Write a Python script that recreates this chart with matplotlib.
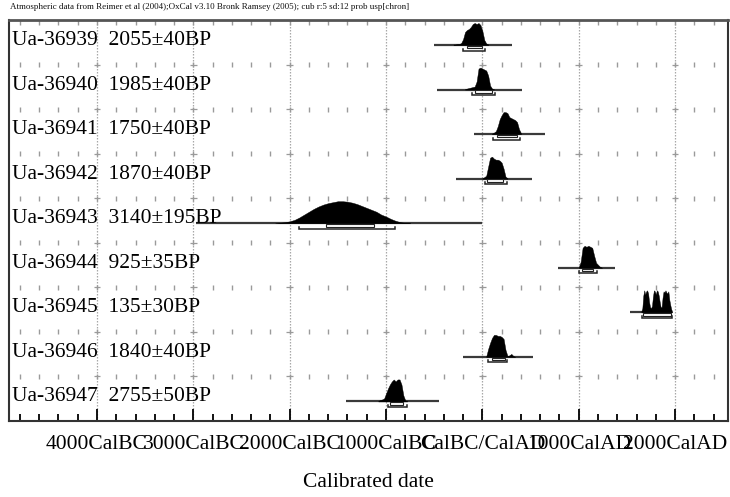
import numpy as np
import matplotlib
matplotlib.use("Agg")
import matplotlib.pyplot as plt
from matplotlib.patches import Rectangle

plt.rcParams['font.family'] = ['Liberation Serif', 'DejaVu Serif']

# ---------------- data ----------------
title = ("Atmospheric data from Reimer et al (2004);OxCal v3.10 Bronk Ramsey (2005); "
         "cub r:5 sd:12 prob usp[chron]")
labels = ["Ua-36939  2055\u00b140BP", "Ua-36940  1985\u00b140BP", "Ua-36941  1750\u00b140BP",
          "Ua-36942  1870\u00b140BP", "Ua-36943  3140\u00b1195BP", "Ua-36944  925\u00b135BP",
          "Ua-36945  135\u00b130BP", "Ua-36946  1840\u00b140BP", "Ua-36947  2755\u00b150BP"]

tick_years = [-4000, -3000, -2000, -1000, 0, 1000, 2000]
tick_labels = ["4000CalBC", "3000CalBC", "2000CalBC", "1000CalBC", "CalBC/CalAD",
               "1000CalAD", "2000CalAD"]

# calibrated probability (relative) on regular year grids
p1_years = list(range(-300, 61, 20))
p1_prob = [0.5, 0.5, 1, 1, 2, 6, 13, 15, 16, 18, 21, 22, 21, 22, 20, 14, 5, 1.5, 0.5]
p2_years = list(range(-180, 121, 20))
p2_prob = [0.5, 1, 1.5, 2, 2.5, 3, 8, 21, 22, 21, 20, 19, 14, 4, 1, 0.3]
p3_years = list(range(100, 401, 20))
p3_prob = [0.5, 1.5, 3, 8, 15, 19, 22, 22, 21, 17, 16, 15, 14, 12, 5, 1]
p4_years = list(range(0, 261, 20))
p4_prob = [0.5, 1.5, 3, 12, 21, 22, 20, 19, 19, 18, 16, 10, 2, 0.5]
p5_years = list(range(-2150, -749, 50))
p5_prob = [0, 0.5, 1, 2, 3.5, 6, 9, 12, 15, 17.5, 19.5, 21, 22, 23, 23, 22.5, 21.5, 20, 18, 16,
           14, 12, 9, 7, 4.5, 2.5, 1, 0.3, 0.1]
p6_years = list(range(1000, 1241, 20))
p6_prob = [0.5, 6, 20, 22, 21, 22, 21, 20, 12, 5, 3, 1, 0.2]
p7_years = list(range(1650, 1971, 10))
p7_prob = [1, 4, 16, 21, 17, 20, 21, 18, 10, 5, 4, 6, 15, 21, 20, 17, 21, 20, 16, 10, 5,
           5, 14, 20, 19, 21, 19, 18, 20, 12, 7, 3, 0.5]
p8_years = list(range(40, 341, 20))
p8_prob = [0.5, 8, 14, 19, 22, 22, 21, 21, 20, 18, 7, 1, 1.5, 3, 1, 0]
p9_years = list(range(-1080, -779, 20))
p9_prob = [0.5, 1.5, 2, 3, 8, 13, 17, 20, 22, 20, 22, 22, 17, 6, 1, 0.3]

years_list = [p1_years, p2_years, p3_years, p4_years, p5_years, p6_years, p7_years, p8_years, p9_years]
prob_list = [p1_prob, p2_prob, p3_prob, p4_prob, p5_prob, p6_prob, p7_prob, p8_prob, p9_prob]

line_start = [-500, -467, -86, -270, -2975, 786, 1531, -200, -1415]
line_end = [308, 415, 651, 520, -5, 1378, 1970, 527, -450]
r68_lo = [-162, -76, 149, 46, -1627, 1035, 1665, 100, -960]
r68_hi = [-6, 97, 357, 218, -1130, 1150, 1955, 235, -820]
r95_lo = [-197, -110, 114, 28, -1907, 1004, 1656, 60, -980]
r95_hi = [28, 132, 391, 253, -902, 1191, 1966, 255, -785]

# ---------------- figure ----------------
W, H = 730, 497
fig = plt.figure(figsize=(W / 100, H / 100), dpi=100)
left, right, top, bottom = 9, 728, 20, 421
ax = fig.add_axes([left / W, 1 - bottom / H, (right - left) / W, (bottom - top) / H])
xmin, xmax = -4913, 2549
ax.set_xlim(xmin, xmax)
nrows = len(labels)
ax.set_ylim(nrows, 0)
row_px = (bottom - top) / nrows
px = 1.0 / row_px  # one pixel in row units

# grid lines
for yr in tick_years:
    ax.axvline(yr, color='#a8a8a8', lw=0.9, ls=(0, (1.2, 1.2)), zorder=0)

minor_years = np.arange(-4800, 2550, 200)
# top ticks (light gray, inward)
ax.vlines(minor_years, 0, 5 * px, color='#9a9a9a', lw=1.0, zorder=1)
# row boundary ticks
for i in range(1, nrows):
    ax.vlines(minor_years, i - 2.5 * px, i + 2.5 * px, color='#9a9a9a', lw=1.0, zorder=1)
    ax.hlines([i] * len(tick_years), np.array(tick_years) - 35, np.array(tick_years) + 35,
              color='#9a9a9a', lw=0.9, zorder=1)

peak_h = 22 * px
base_off = 25 * px
for i in range(nrows):
    base = i + base_off
    ax.text(xmin + 3.2 / 0.09633, base, labels[i], fontsize=15.5, va='baseline', ha='left',
            color='black', zorder=5)
    ax.hlines(base, line_start[i], line_end[i], color='#3a3a3a', lw=1.6, zorder=2)
    yrs = np.array(years_list[i], dtype=float)
    pr = np.array(prob_list[i], dtype=float)
    h = pr / pr.max() * peak_h
    ax.fill_between(yrs, base - h, base, color='black', lw=0.3, zorder=3)
    # 68% box
    ax.add_patch(Rectangle((r68_lo[i], base + 0.8 * px), r68_hi[i] - r68_lo[i], 2.5 * px,
                           facecolor='white', edgecolor='#222222', lw=0.8, zorder=4))
    # 95% bracket
    y95 = base + 5.5 * px
    ax.plot([r95_lo[i], r95_lo[i], r95_hi[i], r95_hi[i]],
            [y95 - 2 * px, y95, y95, y95 - 2 * px], color='#222222', lw=1.1, zorder=4,
            solid_joinstyle='miter')

# axes styling
for s in ax.spines.values():
    s.set_color('#333333')
    s.set_linewidth(1.5)
ax.spines['top'].set_color('#555555')
ax.spines['top'].set_linewidth(2.0)
ax.set_yticks([])
ax.set_xticks(tick_years)
ax.set_xticklabels(tick_labels, fontsize=15.5)
ax.set_xticks(minor_years[[y not in tick_years for y in minor_years]], minor=True)
ax.tick_params(axis='x', which='major', direction='in', length=9, width=1.3, pad=10,
               color='black')
ax.tick_params(axis='x', which='minor', direction='in', length=5, width=1.3, color='black')
ax.set_xlabel("Calibrated date", fontsize=15.5, labelpad=14)

fig.text(10 / W, 1 - 7 / H, title, fontsize=6.5, va='center', ha='left', color='#111111')

fig.savefig("out.png", dpi=100, facecolor='white')
